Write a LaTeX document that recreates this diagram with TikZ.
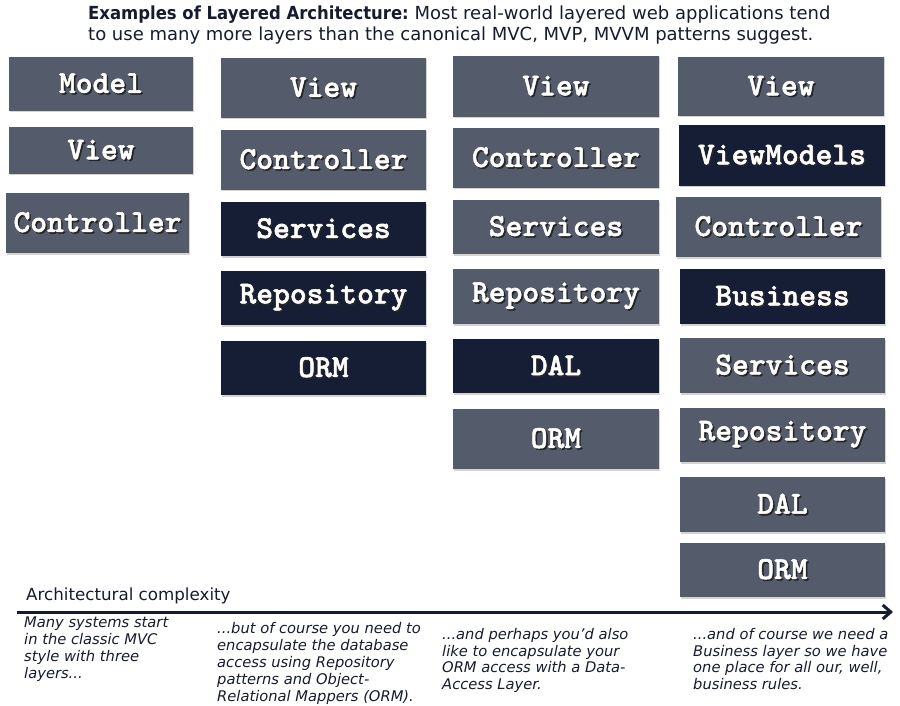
\documentclass[tikz,border=0pt]{standalone}
\usepackage{fontspec}
\setmainfont{DejaVu Sans}
\newfontfamily\boxfont[FakeBold=1.5]{lmmonolt10-bold.otf}
\usetikzlibrary{arrows.meta,shadows}
\definecolor{lyrlite}{RGB}{84,92,107}
\definecolor{lyrdark}{RGB}{21,30,53}
\definecolor{inkblue}{RGB}{22,28,46}
\newcommand{\shtxt}[1]{\makebox[0pt][l]{\raisebox{-1.6pt}{\hspace{1.6pt}\color{black!85}#1}}#1}
\begin{document}
\begin{tikzpicture}[x=1pt,y=-1pt,
    layer/.style={inner sep=0, text=white, drop shadow={shadow xshift=1pt, shadow yshift=-1.5pt, opacity=0.35},
      font=\boxfont\fontsize{32}{34}\selectfont},
    lite/.style={layer, fill=lyrlite},
    dark/.style={layer, fill=lyrdark},
    note/.style={anchor=north west, inner sep=0, align=left, text=inkblue,
      font=\itshape\fontsize{14.7}{16.8}\selectfont}]
    \useasboundingbox (0,0) rectangle (900,706);
    \node[anchor=north west, inner sep=0, align=left, text=inkblue, font=\fontsize{18}{21}\selectfont] (title) at (88,6)
      {\scalebox{0.915}[1]{\textbf{Examples of Layered Architecture:}} Most real-world layered web applications tend\\
       to use many more layers than the canonical MVC, MVP, MVVM patterns suggest.};
    \node[lite, minimum width=184, minimum height=54] (amodel) at (101,84) {\shtxt{Model}};
    \node[lite, minimum width=184, minimum height=47] (aview) at (101,150.5) {\shtxt{View}};
    \node[lite, minimum width=183, minimum height=60] (actrl) at (97.5,223) {\shtxt{Controller}};
    \node[lite, minimum width=205, minimum height=60] (bview) at (323.5,88) {\shtxt{View}};
    \node[lite, minimum width=205, minimum height=60] (bctrl) at (323.5,160) {\shtxt{Controller}};
    \node[dark, minimum width=205, minimum height=54] (bserv) at (323.5,229) {\shtxt{Services}};
    \node[dark, minimum width=205, minimum height=54] (brepo) at (323.5,298) {\shtxt{Repository}};
    \node[dark, minimum width=205, minimum height=54] (borm) at (323.5,368) {\shtxt{ORM}};
    \node[lite, minimum width=206, minimum height=61] (cview) at (556,86.5) {\shtxt{View}};
    \node[lite, minimum width=206, minimum height=60] (cctrl) at (556,158) {\shtxt{Controller}};
    \node[lite, minimum width=206, minimum height=54] (cserv) at (556,227) {\shtxt{Services}};
    \node[lite, minimum width=206, minimum height=55] (crepo) at (556,296.5) {\shtxt{Repository}};
    \node[dark, minimum width=206, minimum height=54] (cdal) at (556,366) {\shtxt{DAL}};
    \node[lite, minimum width=206, minimum height=60] (corm) at (556,439) {\shtxt{ORM}};
    \node[lite, minimum width=206, minimum height=59] (dview) at (781,86.5) {\shtxt{View}};
    \node[dark, minimum width=206, minimum height=61] (dvm) at (782,155.5) {\shtxt{ViewModels}};
    \node[lite, minimum width=205, minimum height=60] (dctrl) at (778.5,227) {\shtxt{Controller}};
    \node[dark, minimum width=205, minimum height=55] (dbiz) at (782.5,296.5) {\shtxt{Business}};
    \node[lite, minimum width=205, minimum height=55] (dserv) at (782.5,365.5) {\shtxt{Services}};
    \node[lite, minimum width=205, minimum height=54] (drepo) at (782.5,435) {\shtxt{Repository}};
    \node[lite, minimum width=205, minimum height=55] (ddal) at (782.5,504.5) {\shtxt{DAL}};
    \node[lite, minimum width=205, minimum height=54] (dorm) at (782.5,570) {\shtxt{ORM}};
    \node[anchor=base west, inner sep=0, text=inkblue, font=\fontsize{16.7}{19}\selectfont] (axlabel) at (26,600) {Architectural complexity};
    \coordinate (axfrom) at (17,612);
    \coordinate (axto) at (893,612);
    \draw[inkblue, line width=3pt, -{Straight Barb[length=8pt,width=14pt]}] (axfrom) -- (axto);
    \node[note] (anote) at (24,617) {Many systems start\\in the classic MVC\\style with three\\layers...};
    \node[note] (bnote) at (217,622.5) {...but of course you need to\\encapsulate the database\\access using Repository\\patterns and Object-\\Relational Mappers (ORM).};
    \node[note] (cnote) at (442,628) {...and perhaps you’d also\\like to encapsulate your\\ORM access with a Data-\\Access Layer.};
    \node[note] (dnote) at (693,628) {...and of course we need a\\Business layer so we have\\one place for all our, well,\\business rules.};
\end{tikzpicture}
\end{document}
